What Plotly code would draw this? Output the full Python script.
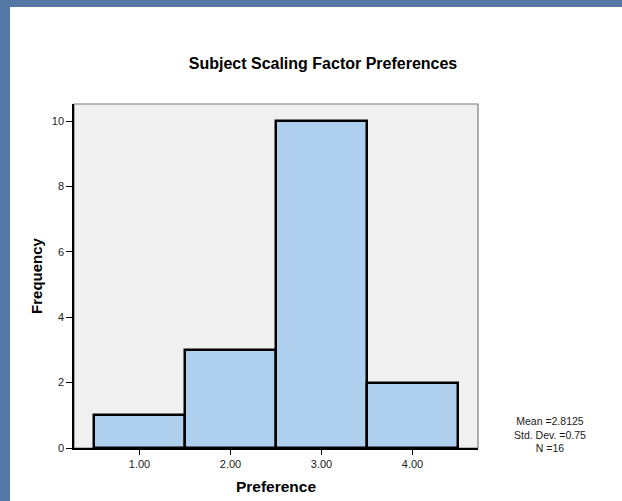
import plotly.graph_objects as go

categories = [1, 2, 3, 4]
frequencies = [1, 3, 10, 2]
x_tick_labels = ["1.00", "2.00", "3.00", "4.00"]
y_tick_values = [0, 2, 4, 6, 8, 10]
stats_lines = ["Mean =2.8125", "Std. Dev. =0.75", "N =16"]

W, H = 622, 501
L, R, T, B = 74, 478, 104, 448
pw, ph = R - L, B - T

def px_x(x):
    return (x - L) / pw

def px_y(y):
    return (B - y) / ph

fig = go.Figure()
fig.add_trace(go.Bar(
    x=categories, y=frequencies, width=1,
    marker=dict(color="#aecfee", line=dict(color="black", width=2.5)),
    showlegend=False, hoverinfo="skip",
))

font = "Liberation Sans, Arial, sans-serif"

fig.update_layout(
    width=W, height=H,
    margin=dict(l=L, r=W - R, t=T, b=H - B, pad=0),
    paper_bgcolor="#5378a4",
    plot_bgcolor="rgba(0,0,0,0)",
    font=dict(family=font, color="#1a1a1a", size=11),
    bargap=0,
    title=dict(text="<b>Subject Scaling Factor Preferences</b>",
               font=dict(size=16, color="black", family=font),
               xref="paper", x=px_x(323), xanchor="center",
               yref="container", y=1 - 63 / H, yanchor="middle"),
    xaxis=dict(range=[0.28, 4.72], tickvals=categories, ticktext=x_tick_labels,
               ticks="outside", ticklen=5, tickcolor="black", tickwidth=1,
               showgrid=False, zeroline=False, showline=True, linecolor="black", linewidth=1.5,
               tickfont=dict(size=11, color="#1a1a1a"), automargin=False,
               title=dict(text="<b>Preference</b>", font=dict(size=15.5, color="black"), standoff=12)),
    yaxis=dict(range=[0, 10.52], tickvals=y_tick_values,
               ticks="outside", ticklen=6, tickcolor="black", tickwidth=1,
               showgrid=False, zeroline=False, showline=True, linecolor="black", linewidth=1.5,
               tickfont=dict(size=11, color="#1a1a1a"), automargin=False,
               title=dict(text="<b>Frequency</b>", font=dict(size=15, color="black"), standoff=6)),
    shapes=[
        dict(type="rect", xref="paper", yref="paper", layer="below",
             x0=px_x(10), x1=px_x(W + 5), y0=px_y(H + 5), y1=px_y(7),
             fillcolor="white", line=dict(width=0)),
        dict(type="rect", xref="paper", yref="paper", layer="below",
             x0=0, x1=1, y0=0, y1=1,
             fillcolor="#f0f0f0", line=dict(color="#7a7a7a", width=1.2)),
    ],
    annotations=[
        dict(text="<br>".join(stats_lines), xref="paper", yref="paper",
             x=px_x(550), y=px_y(434), xanchor="center", yanchor="middle",
             showarrow=False, align="center",
             font=dict(size=10.5, color="#1a1a1a", family=font)),
    ],
)

fig.write_html("out.html", config={"displayModeBar": False},
               post_script="document.body.style.margin='0';document.body.style.overflow='hidden';")
